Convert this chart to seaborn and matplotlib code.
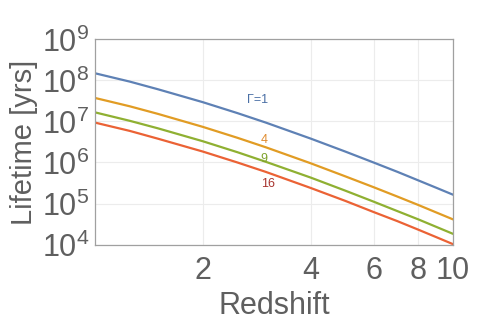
import numpy as np
import pandas as pd
import matplotlib
matplotlib.use("Agg")
import matplotlib.pyplot as plt
from matplotlib.ticker import FixedLocator, LogLocator, NullFormatter
import seaborn as sns

# valores (vida media en años vs redshift)
redshift = [1, 1.25, 1.5, 2, 2.5, 3, 4, 5, 6, 7, 8, 9, 10]
gamma_1 = [1.5e8, 9.4e7, 6.1e7, 2.96e7, 1.6e7, 9.4e6, 3.84e6, 1.85e6, 1.0e6, 5.9e5, 3.66e5, 2.4e5, 1.64e5]
gamma_4 = [3.75e7, 2.35e7, 1.53e7, 7.4e6, 4.0e6, 2.35e6, 9.6e5, 4.6e5, 2.5e5, 1.47e5, 9.2e4, 6.0e4, 4.1e4]
gamma_9 = [1.67e7, 1.04e7, 6.8e6, 3.3e6, 1.78e6, 1.04e6, 4.3e5, 2.06e5, 1.11e5, 6.5e4, 4.1e4, 2.67e4, 1.82e4]
gamma_16 = [9.4e6, 5.9e6, 3.8e6, 1.85e6, 1.0e6, 5.9e5, 2.4e5, 1.16e5, 6.2e4, 3.7e4, 2.3e4, 1.5e4, 1.02e4]

gammas = ["1", "4", "9", "16"]
colores = ["#5E81B5", "#E19C24", "#8FB032", "#EB6235"]
etiquetas = ["Γ=1", "4", "9", "16"]
etiqueta_x = [2.85, 2.97, 2.97, 3.04]
etiqueta_y = [3.3e7, 3.5e6, 1.22e6, 3.0e5]
etiqueta_color = ["#4A6FA5", "#E08A2C", "#7FA22C", "#A8342E"]

df = pd.DataFrame({
    "z": redshift * 4,
    "t": gamma_1 + gamma_4 + gamma_9 + gamma_16,
    "gamma": sum([[g] * len(redshift) for g in gammas], []),
})

sns.set_theme(style="white")
plt.rcParams["font.family"] = ["Liberation Sans", "DejaVu Sans"]
plt.rcParams["mathtext.fontset"] = "custom"
plt.rcParams["mathtext.rm"] = "Liberation Sans"
plt.rcParams["mathtext.it"] = "Liberation Sans"

gris = "#5f5f5f"
fig = plt.figure(figsize=(4.83, 3.29), dpi=100)
ax = fig.add_axes([0.1967, 0.2568, 0.7412, 0.6232])

sns.lineplot(data=df, x="z", y="t", hue="gamma", palette=colores,
             hue_order=gammas, linewidth=1.6, legend=False, ax=ax)

ax.set_xscale("log")
ax.set_yscale("log")
ax.set_xlim(1, 10)
ax.set_ylim(1e4, 1e9)

ax.xaxis.set_major_locator(FixedLocator([2, 4, 6, 8, 10]))
ax.set_xticklabels(["2", "4", "6", "8", "10"])
ax.xaxis.set_minor_locator(FixedLocator([1.5, 2.5, 3, 3.5, 4.5, 5, 7, 9]))
ax.xaxis.set_minor_formatter(NullFormatter())
ax.yaxis.set_major_locator(LogLocator(base=10, numticks=10))
ax.yaxis.set_minor_locator(LogLocator(base=10, subs=np.arange(2, 10), numticks=20))
ax.yaxis.set_minor_formatter(NullFormatter())

ax.grid(True, which="major", color="#ececec", linewidth=0.8)
ax.tick_params(axis="both", which="major", direction="in", length=3,
               color="#cccccc", labelsize=22, labelcolor=gris)
ax.tick_params(axis="x", which="major", pad=8)
ax.tick_params(axis="y", which="major", pad=4)
ax.tick_params(axis="both", which="minor", direction="in", length=2, color="#dddddd")
for s in ax.spines.values():
    s.set_color("#a0a0a0")
    s.set_linewidth(0.9)

ax.set_xlabel("Redshift", fontsize=22, color=gris, labelpad=4)
ax.set_ylabel("Lifetime [yrs]", fontsize=21, color=gris, labelpad=3)

for i in range(4):
    ax.text(etiqueta_x[i], etiqueta_y[i], etiquetas[i], color=etiqueta_color[i],
            fontsize=9, ha="center", va="center")

fig.savefig("out.png", dpi=100)
